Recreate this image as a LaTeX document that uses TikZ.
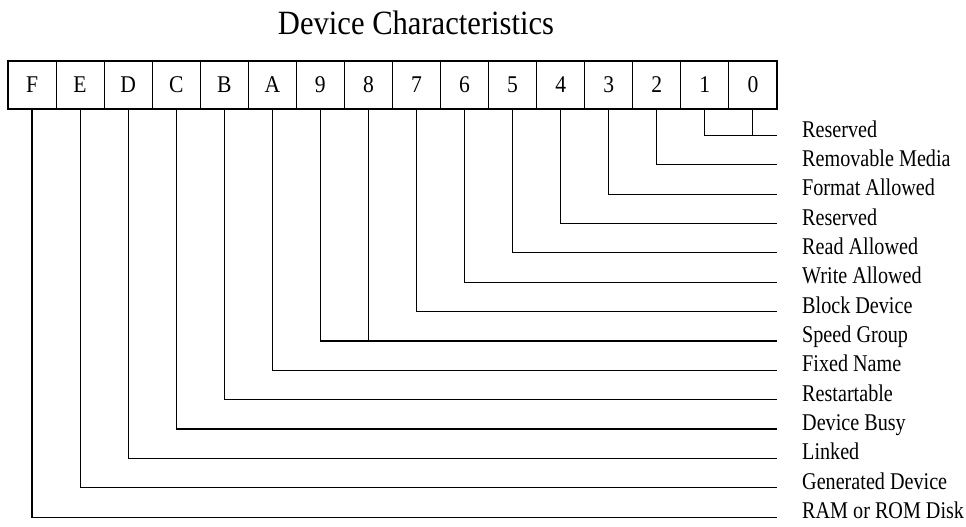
\documentclass[tikz,border=0pt]{standalone}
\usepackage{fontspec}
\setmainfont{Liberation Serif}
\newfontfamily\lblfont[FakeStretch=0.84]{Liberation Serif}
\newfontfamily\cellfont[FakeStretch=0.9]{Liberation Serif}
\newfontfamily\ttlfont[FakeStretch=0.9]{Liberation Serif}
\begin{document}
\begin{tikzpicture}[x=1pt,y=-1pt,
  cell/.style={draw, line width=1.1pt, minimum width=48.06pt, minimum height=48pt, inner sep=0pt, font=\cellfont\fontsize{24}{24}\selectfont},
  lbl/.style={anchor=base west, inner sep=0pt, font=\lblfont\fontsize{24}{24}\selectfont},
  wire/.style={line width=1.1pt}]
\useasboundingbox (0,0) rectangle (966,527);
\node[font=\ttlfont\fontsize{34}{34}\selectfont, anchor=base, inner sep=0pt] (title) at (416,35) {Device Characteristics};
\foreach \t [count=\j from 0] in {F,E,D,C,B,A,9,8,7,6,5,4,3,2,1,0}
  \node[cell] (b\t) at ({8+48.06*(\j+0.5)},85) {\t};
\foreach \k/\txt in {0/Reserved,1/Removable Media,2/Format Allowed,3/Reserved,4/Read Allowed,5/Write Allowed,6/Block Device,7/Speed Group,8/Fixed Name,9/Restartable,10/Device Busy,11/Linked,12/Generated Device,13/RAM or ROM Disk}{
  \coordinate (e\k) at (777,{135.5+29.35*\k});
  \node[lbl] (l\k) at (802,{137+29.35*\k}) {\txt};
}
\foreach \b/\k in {1/0,2/1,3/2,4/3,5/4,6/5,7/6,9/7,A/8,B/9,C/10,D/11,E/12,F/13}
  \draw[wire] (b\b.south) |- (e\k);
\draw[wire] (b0.south) -- (b0.south |- e0);
\draw[wire] (b8.south) -- (b8.south |- e7);
\end{tikzpicture}
\end{document}
